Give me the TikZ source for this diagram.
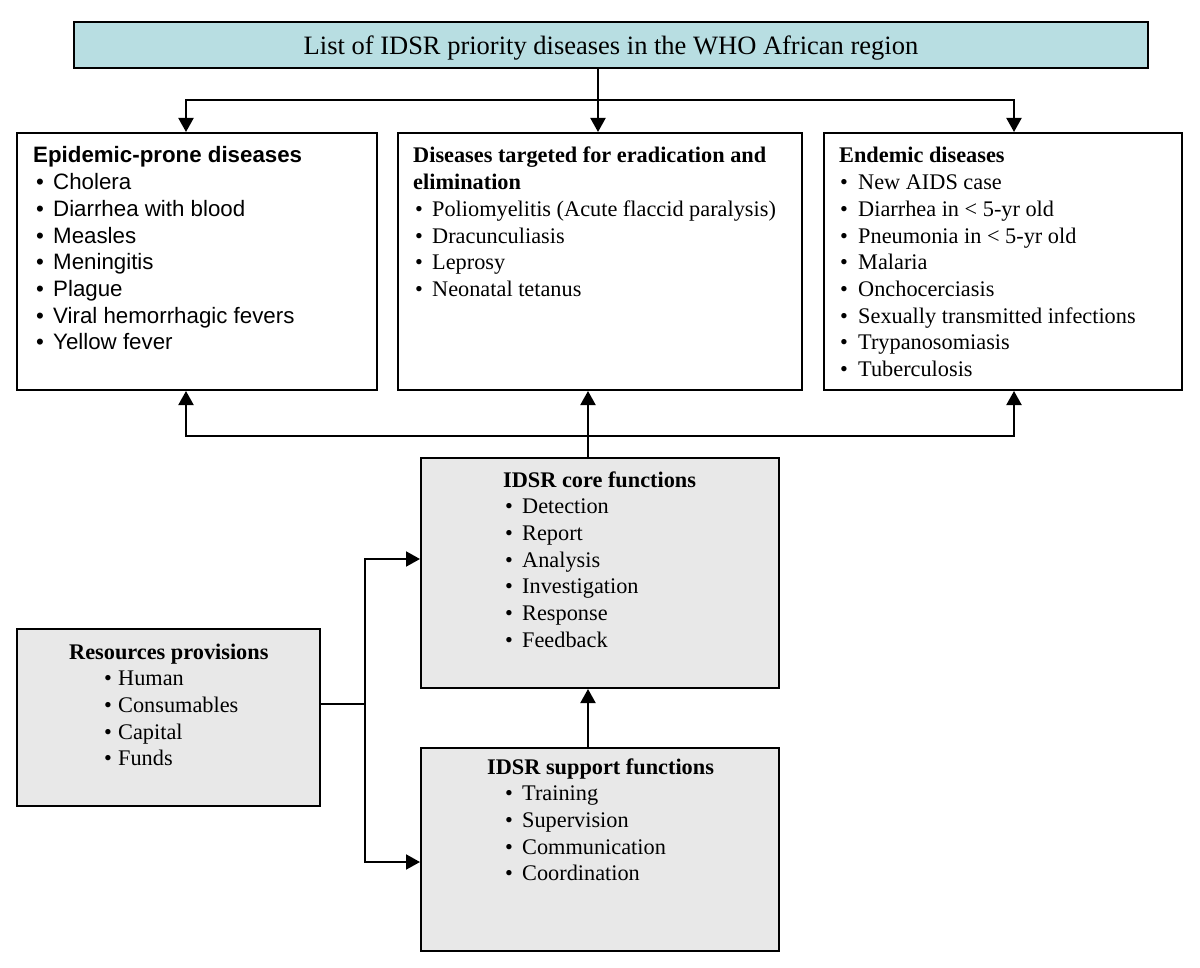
\documentclass[tikz,border=0pt]{standalone}
\usepackage{fontspec}
\setmainfont{Liberation Serif}
\newfontfamily\arialf{Liberation Sans}
\usetikzlibrary{arrows.meta}
\definecolor{topfill}{RGB}{184,222,226}
\definecolor{greyfill}{RGB}{232,232,232}
\newcommand{\bul}[1]{\makebox[#1][l]{\textbullet}}
\newcommand{\itemlines}[5]{%
  \foreach [count=\i] \t in {#5} {
    \node[txt, #4] (#1-\i) at ({#2},{#3+(\i-1)*26.7}) {\t};
  }}
\tikzset{
  box/.style={draw, line width=2pt, inner sep=0pt},
  txt/.style={anchor=base west, inner sep=0pt},
  sansf/.style={font=\arialf\fontsize{22.3}{26.7}\selectfont},
  serf/.style={font=\fontsize{22.3}{26.7}\selectfont},
  conn/.style={line width=2pt},
  arr/.style={line width=2pt, -{Triangle[length=14pt,width=15pt]}},
}
\begin{document}
\begin{tikzpicture}[x=1pt,y=-1pt]
\useasboundingbox (0,0) rectangle (1200,968);

% boxes
\node[box, fill=topfill, minimum width=1074pt, minimum height=46pt] (top) at (611,45) {};
\node[box, fill=white, minimum width=360pt, minimum height=257pt] (b1) at (197,261.5) {};
\node[box, fill=white, minimum width=404pt, minimum height=257pt] (b2) at (600,261.5) {};
\node[box, fill=white, minimum width=358pt, minimum height=257pt] (b3) at (1003,261.5) {};
\node[box, fill=greyfill, minimum width=358pt, minimum height=230pt] (core) at (600,573) {};
\node[box, fill=greyfill, minimum width=358pt, minimum height=203pt] (sup) at (600,849.5) {};
\node[box, fill=greyfill, minimum width=303pt, minimum height=177pt] (res) at (168.5,717.5) {};

% top title
\node[anchor=base, inner sep=0pt, font=\fontsize{26.5}{30}\selectfont] (toptxt) at (611,55)
  {List of IDSR priority diseases in the WHO African region};

% box 1
\node[txt, sansf] (t1) at (33,163) {\textbf{Epidemic-prone diseases}};
\itemlines{l1}{36}{189.7}{sansf}{{\bul{17pt}Cholera},{\bul{17pt}Diarrhea with blood},{\bul{17pt}Measles},{\bul{17pt}Meningitis},{\bul{17pt}Plague},{\bul{17pt}Viral hemorrhagic fevers},{\bul{17pt}Yellow fever}}

% box 2
\node[txt, serf] (t2a) at (413,163) {\textbf{Diseases targeted for eradication and}};
\node[txt, serf] (t2b) at (413,189.7) {\textbf{elimination}};
\itemlines{l2}{415}{216.4}{serf}{{\bul{17pt}Poliomyelitis (Acute flaccid paralysis)},{\bul{17pt}Dracunculiasis},{\bul{17pt}Leprosy},{\bul{17pt}Neonatal tetanus}}

% box 3
\node[txt, serf] (t3) at (839,163) {\textbf{Endemic diseases}};
\itemlines{l3}{840}{189.7}{serf}{{\bul{18pt}New AIDS case},{\bul{18pt}Diarrhea in < 5-yr old},{\bul{18pt}Pneumonia in < 5-yr old},{\bul{18pt}Malaria},{\bul{18pt}Onchocerciasis},{\bul{18pt}Sexually transmitted infections},{\bul{18pt}Trypanosomiasis},{\bul{18pt}Tuberculosis}}

% core
\node[txt, serf] (tc) at (503,487) {\textbf{IDSR core functions}};
\itemlines{lc}{505}{513.7}{serf}{{\bul{17pt}Detection},{\bul{17pt}Report},{\bul{17pt}Analysis},{\bul{17pt}Investigation},{\bul{17pt}Response},{\bul{17pt}Feedback}}

% support
\node[txt, serf] (ts) at (487,774) {\textbf{IDSR support functions}};
\itemlines{ls}{505}{800.7}{serf}{{\bul{17pt}Training},{\bul{17pt}Supervision},{\bul{17pt}Communication},{\bul{17pt}Coordination}}

% resources
\node[txt, serf] (tr) at (69,659) {\textbf{Resources provisions}};
\itemlines{lr}{104}{685.7}{serf}{{\bul{14pt}Human},{\bul{14pt}Consumables},{\bul{14pt}Capital},{\bul{14pt}Funds}}

% connectors: top
\coordinate (j1) at (598,100);
\coordinate (a1) at (186,100);
\coordinate (a3) at (1014,100);
\draw[conn] (top.south -| j1) -- (j1);
\draw[arr] (j1) -- (a1) -- (a1 |- b1.north);
\draw[arr] (j1) -- (a3) -- (a3 |- b3.north);
\draw[arr] (j1) -- (j1 |- b2.north);

% connectors: middle
\coordinate (j2) at (588,436);
\coordinate (c1) at (186,436);
\coordinate (c3) at (1014,436);
\draw[conn] (core.north -| j2) -- (j2);
\draw[arr] (j2) -- (j2 |- b2.south);
\draw[arr] (j2) -- (c1) -- (c1 |- b1.south);
\draw[arr] (j2) -- (c3) -- (c3 |- b3.south);

% support -> core
\draw[arr] (sup.north -| j2) -- (core.south -| j2);

% resources
\coordinate (k) at (365,704);
\coordinate (k1) at (365,559);
\coordinate (k2) at (365,862);
\draw[conn] (k -| res.east) -- (k);
\draw[arr] (k) -- (k1) -- (k1 -| core.west);
\draw[arr] (k) -- (k2) -- (k2 -| sup.west);
\end{tikzpicture}
\end{document}
